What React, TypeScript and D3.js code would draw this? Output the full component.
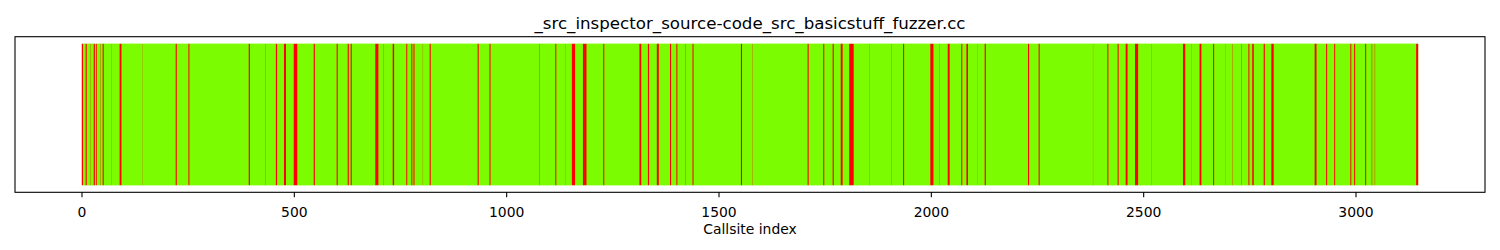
import React from "react";
import * as d3 from "d3";

const TITLE = "_src_inspector_source-code_src_basicstuff_fuzzer.cc";
const X_LABEL = "Callsite index";
const CALLSITE_COUNT = 3147;
const X_TICKS = [0, 500, 1000, 1500, 2000, 2500, 3000];

// Callsites that were NOT hit (red): start index and run length. All others are hit (green).
const RED_STARTS = [
  0, 9, 20, 28, 34, 44, 49, 69, 89, 142, 221, 251, 393, 432, 457, 476, 499, 546, 600, 626,
  633, 691, 711, 732, 764, 776, 781, 803, 819, 932, 960, 1078, 1115, 1138, 1154, 1180, 1228,
  1313, 1333, 1354, 1385, 1400, 1422, 1438, 1552, 1579, 1709, 1746, 1768, 1787, 1807, 1854,
  1906, 1934, 1998, 2019, 2039, 2071, 2083, 2108, 2126, 2228, 2253, 2381, 2415, 2439, 2458,
  2480, 2518, 2593, 2612, 2632, 2664, 2692, 2710, 2731, 2747, 2756, 2783, 2801, 2903, 2930,
  2949, 2987, 2996, 3022, 3037, 3040, 3043, 3045, 3142,
];
const RED_LENGTHS = [
  3, 3, 1, 3, 2, 1, 3, 1, 5, 1, 3, 3, 3, 1, 3, 5, 9, 3, 3, 3,
  3, 8, 1, 4, 3, 3, 3, 1, 3, 3, 3, 1, 3, 1, 8, 9, 3,
  5, 3, 5, 3, 3, 1, 3, 3, 1, 3, 3, 3, 5, 11, 1,
  1, 3, 8, 1, 5, 3, 4, 1, 3, 3, 3, 1, 3, 3, 5,
  8, 1, 6, 1, 5, 3, 1, 1, 1, 3, 4, 3, 6, 5, 3,
  3, 3, 3, 3, 1, 1, 1, 1, 5,
];

const COLOR_HIT = "#7cfc00";
const COLOR_MISS = "#ff0000";

type Run = { start: number; len: number; hit: boolean };

function buildRuns(): Run[] {
  const hit = new Array(CALLSITE_COUNT).fill(true);
  RED_STARTS.forEach((s, k) => {
    for (let i = s; i < s + RED_LENGTHS[k] && i < CALLSITE_COUNT; i++) hit[i] = false;
  });
  const runs: Run[] = [];
  let cur: Run | null = null;
  for (let i = 0; i < CALLSITE_COUNT; i++) {
    if (cur && cur.hit === hit[i]) cur.len++;
    else {
      cur = { start: i, len: 1, hit: hit[i] };
      runs.push(cur);
    }
  }
  return runs;
}

export default function App() {
  const W = 1500;
  const H = 250;
  const left = 15;
  const right = 1485;
  const top = 36.7;
  const bottom = 192.3;
  const barW = 0.8;

  const lo = -barW / 2;
  const hi = CALLSITE_COUNT - 1 + barW / 2;
  const m = 0.05 * (hi - lo);
  const x = d3.scaleLinear().domain([lo - m, hi + m]).range([left, right]);
  const y = d3.scaleLinear().domain([-0.05, 1.05]).range([bottom, top]);

  const runs = buildRuns();
  const font = "DejaVu Sans, sans-serif";

  return (
    <svg
      width={W}
      height={H}
      style={{ position: "absolute", left: 0, top: 0, background: "#fff" }}
      fontFamily={font}
    >
      <rect x={0} y={0} width={W} height={H} fill="#fff" />
      {/* green base over the full data extent to avoid seams */}
      <rect
        x={x(lo)}
        y={y(1)}
        width={x(hi) - x(lo)}
        height={y(0) - y(1)}
        fill={COLOR_HIT}
      />
      {runs.map((r, i) => {
        const x0 = x(r.start - barW / 2);
        const x1 = x(r.start + r.len - 1 + barW / 2);
        return (
          <rect
            key={i}
            x={x0}
            y={y(1)}
            width={x1 - x0}
            height={y(0) - y(1)}
            fill={r.hit ? COLOR_HIT : COLOR_MISS}
          />
        );
      })}
      <rect
        x={left}
        y={top}
        width={right - left}
        height={bottom - top}
        fill="none"
        stroke="#000"
        strokeWidth={1.1}
      />
      {X_TICKS.map((t) => (
        <g key={t}>
          <line x1={x(t)} x2={x(t)} y1={bottom} y2={bottom + 4.9} stroke="#000" strokeWidth={1.1} />
          <text x={x(t)} y={217} textAnchor="middle" fontSize={13.9} fill="#000">
            {t}
          </text>
        </g>
      ))}
      <text x={(left + right) / 2} y={234} textAnchor="middle" fontSize={13.9} fill="#000">
        {X_LABEL}
      </text>
      <text x={(left + right) / 2} y={28.5} textAnchor="middle" fontSize={16.67} fill="#000">
        {TITLE}
      </text>
    </svg>
  );
}
